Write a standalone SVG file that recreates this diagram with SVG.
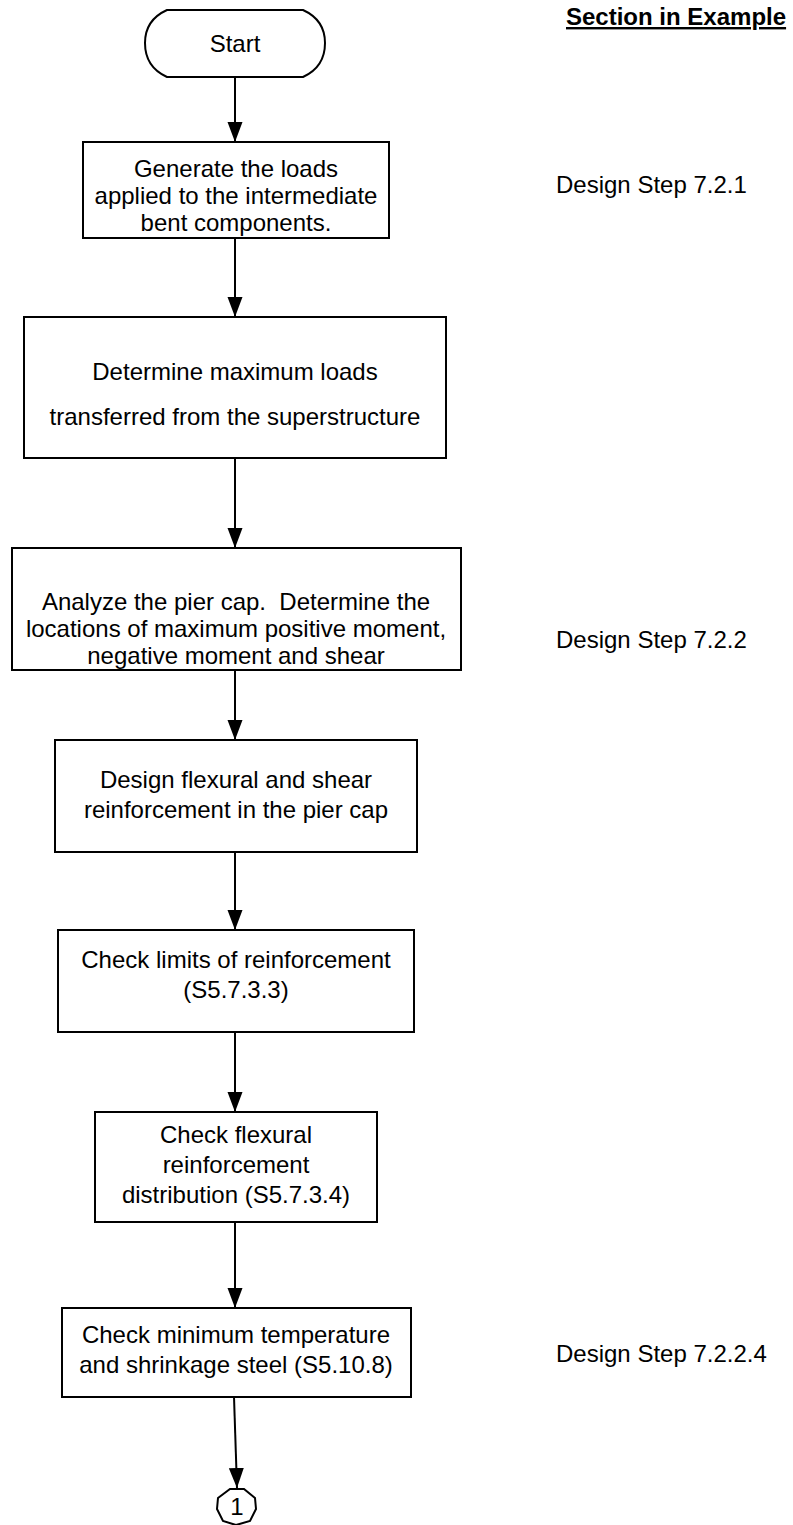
<svg xmlns="http://www.w3.org/2000/svg" width="793" height="1525" viewBox="0 0 793 1525">
<style>
.box{fill:#fff;stroke:#000;stroke-width:2}
.t{font-family:"Liberation Sans",Arial,sans-serif;font-size:24px;fill:#000;text-anchor:middle}
.lbl{font-family:"Liberation Sans",Arial,sans-serif;font-size:24px;fill:#000}
.hdr{font-family:"Liberation Sans",Arial,sans-serif;font-size:24px;font-weight:bold;fill:#000;text-decoration:underline}
.c{stroke:#000;stroke-width:2;fill:none;marker-end:url(#ah)}
</style>
<defs>
<marker id="ah" markerUnits="userSpaceOnUse" markerWidth="20" markerHeight="16" refX="20" refY="7.5" orient="auto">
<path d="M0,0 L20,7.5 L0,15 Z" fill="#000"/>
</marker>
</defs>
<g id="connectors">
<line class="c" x1="235" y1="77" x2="235" y2="142"/>
<line class="c" x1="235" y1="238" x2="235" y2="317"/>
<line class="c" x1="235" y1="458" x2="235" y2="548"/>
<line class="c" x1="235" y1="670" x2="235" y2="740"/>
<line class="c" x1="235" y1="852" x2="235" y2="930"/>
<line class="c" x1="235" y1="1032" x2="235" y2="1112"/>
<line class="c" x1="235" y1="1222" x2="235" y2="1308"/>
<line class="c" x1="234" y1="1397" x2="237" y2="1488"/>
</g>
<g id="start">
<path class="box" d="M167,10 L303,10 Q325,20 325,43 Q325,67 303,77 L167,77 Q145,67 145,43 Q145,20 167,10 Z"/>
<text class="t" x="235" y="52">Start</text>
</g>
<g id="n1">
<rect class="box" x="83" y="142" width="306" height="96"/>
<text class="t" x="236" y="177">Generate the loads</text>
<text class="t" x="236" y="204">applied to the intermediate</text>
<text class="t" x="236" y="231">bent components.</text>
</g>
<g id="n2">
<rect class="box" x="24" y="317" width="422" height="141"/>
<text class="t" x="235" y="380">Determine maximum loads</text>
<text class="t" x="235" y="425">transferred from the superstructure</text>
</g>
<g id="n3">
<rect class="box" x="12" y="548" width="449" height="122"/>
<text class="t" x="236" y="610">Analyze the pier cap.&#160; Determine the</text>
<text class="t" x="236" y="637">locations of maximum positive moment,</text>
<text class="t" x="236" y="664">negative moment and shear</text>
</g>
<g id="n4">
<rect class="box" x="55" y="740" width="362" height="112"/>
<text class="t" x="236" y="788">Design flexural and shear</text>
<text class="t" x="236" y="818">reinforcement in the pier cap</text>
</g>
<g id="n5">
<rect class="box" x="58" y="930" width="356" height="102"/>
<text class="t" x="236" y="968">Check limits of reinforcement</text>
<text class="t" x="236" y="998">(S5.7.3.3)</text>
</g>
<g id="n6">
<rect class="box" x="95" y="1112" width="282" height="110"/>
<text class="t" x="236" y="1143">Check flexural</text>
<text class="t" x="236" y="1173">reinforcement</text>
<text class="t" x="236" y="1203">distribution (S5.7.3.4)</text>
</g>
<g id="n7">
<rect class="box" x="62" y="1308" width="349" height="89"/>
<text class="t" x="236" y="1343">Check minimum temperature</text>
<text class="t" x="236" y="1373">and shrinkage steel (S5.10.8)</text>
</g>
<g id="offpage">
<path class="box" d="M230,1489 L244,1489 L255,1498 L256,1509 L250,1521 L236,1525 L223,1521 L217,1509 L218,1498 Z"/>
<text class="t" x="237" y="1515">1</text>
</g>
<g id="labels">
<text class="hdr" x="566" y="25">Section in Example</text>
<text class="lbl" x="556" y="193">Design Step 7.2.1</text>
<text class="lbl" x="556" y="648">Design Step 7.2.2</text>
<text class="lbl" x="556" y="1362">Design Step 7.2.2.4</text>
</g>
</svg>
